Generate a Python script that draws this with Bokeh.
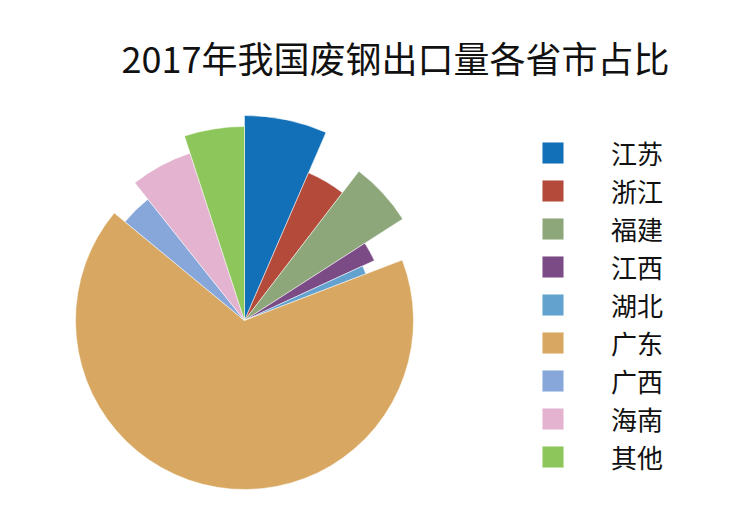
import numpy as np
from bokeh.plotting import figure
from bokeh.models import ColumnDataSource, Range1d, Legend, LegendItem
from bokeh.embed import file_html
from bokeh.resources import INLINE

# 2017 scrap steel export share by province (angle) and slice radius
provinces = ["江苏", "浙江", "福建", "江西", "湖北", "广东", "广西", "海南", "其他"]
share = [6.5, 3.9, 5.5, 2.2, 1.05, 66.75, 3.3, 5.7, 5.0]
radius = [205, 161, 188, 143, 130, 169, 155, 176, 194]
colors = ["#1170B8", "#B34A3A", "#8DA77A", "#7B4B86", "#63A2CF",
          "#D8A862", "#87A7DA", "#E3B3CF", "#8DC65B"]

frac = np.array(share) / sum(share)
cum = np.cumsum(frac)
# clockwise from 12 o'clock
start_angle = np.pi / 2 - cum * 2 * np.pi
end_angle = np.pi / 2 - (cum - frac) * 2 * np.pi

src = ColumnDataSource(dict(name=provinces, r=radius, color=colors,
                            start=start_angle, end=end_angle))

FW, FH = 740, 420
TOP = 87  # page y of frame top (title sits above)
LEFT = 1  # page x of frame left
CX, CY = 245, 320  # pie centre in page pixels

p = figure(frame_width=FW, frame_height=FH, output_backend="svg",
           toolbar_location=None, min_border=0, min_border_top=TOP,
           x_range=Range1d(LEFT - CX, LEFT + FW - CX),
           y_range=Range1d(CY - (TOP + FH), CY - TOP),
           title="2017年我国废钢出口量各省市占比")
p.axis.visible = False
p.grid.visible = False
p.outline_line_color = None

p.title.text_font = "Noto Sans CJK SC"
p.title.text_font_size = "36px"
p.title.text_font_style = "normal"
p.title.text_color = "#111111"
p.title.align = "left"
p.title.offset = 121

w = p.wedge(x=0, y=0, radius="r", start_angle="start", end_angle="end",
            fill_color="color", line_color="white", line_width=0.5, source=src)

items = [LegendItem(label=n, renderers=[w], index=i) for i, n in enumerate(provinces)]
legend = Legend(items=items, location=(539, 32), orientation="vertical",
                glyph_width=27, glyph_height=27, label_height=27,
                spacing=1, padding=0, margin=0, label_standoff=45,
                label_text_font="Noto Sans CJK SC", label_text_font_size="26px",
                label_text_color="#111111", border_line_color=None,
                background_fill_alpha=0)
p.add_layout(legend)

open("out.html", "w").write(file_html(p, INLINE))
